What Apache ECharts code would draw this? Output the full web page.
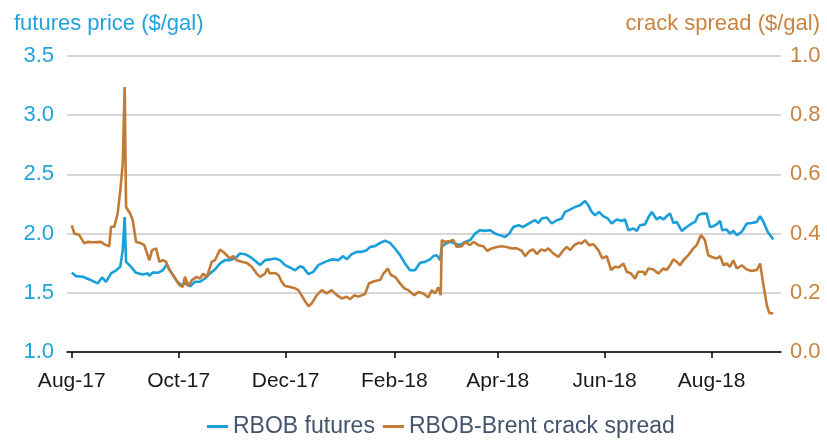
<!DOCTYPE html>
<html>
<head>
<meta charset="utf-8">
<title>RBOB futures and RBOB-Brent crack spread</title>
<script src="https://cdn.jsdelivr.net/npm/echarts@6/dist/echarts.min.js"></script>
<style>
  html, body { margin: 0; padding: 0; background: #fff; }
  #chart { width: 827px; height: 440px; }
</style>
</head>
<body>
<div id="chart"></div>
<script>
// x values are days after 2017-08-01
const rbobDay = [0, 2.5, 6.3, 10, 14.8, 17.3, 19.6, 22.4, 25.3, 27.7, 29.1, 30.2, 31, 33.8, 36.7, 40.5, 43.4, 44.3, 46.2, 49.1,
  51.9, 54.2, 56.6, 59.5, 62.3, 64.6, 67.5, 70.3, 73.2, 76, 78.9, 81.7, 84.6, 87.4, 90.3, 93.2, 96, 98.9, 101.7, 104.6,
  107.4, 110.3, 113.1, 116, 118.8, 121.7, 124.5, 127.4, 130.2, 132.1, 135, 137.8, 140.7, 144.5, 148.3, 152.1, 154.9, 156.9, 159.7, 162.6,
  165.4, 168.3, 170.2, 173, 175.9, 178.7, 181.6, 184.4, 187.3, 190.1, 193, 195.8, 198.7, 201.5, 204.4, 206.3, 208.2, 210.1, 211.1, 212.9,
  215.8, 218.6, 221.5, 224.4, 227.2, 230.1, 232.9, 235.8, 238.6, 241.5, 244.3, 247.2, 249.6, 251.9, 254.8, 257.6, 261.4, 264.3, 266.2, 268.1,
  271, 273.8, 276.7, 279.5, 281.4, 284.3, 287.1, 290, 292.8, 294.7, 296.6, 298.5, 300.8, 303.2, 305.8, 308, 310.9, 313.7, 315.6, 317.5,
  320.4, 322.3, 324.2, 327, 329.3, 330.9, 333.7, 335.6, 337.5, 340, 341.3, 343.2, 345.1, 348, 350.8, 353.7, 355.6, 357.4, 359.4, 362.2,
  364.1, 366, 368, 369.9, 371.1, 373.6, 375.5, 377.4, 379.4, 382.2, 385.1, 387.9, 390.8, 392.7, 394.6, 397, 400.2];
const rbobPrice = [1.669, 1.641, 1.635, 1.613, 1.579, 1.63, 1.593, 1.664, 1.69, 1.72, 1.86, 2.14, 1.761, 1.72, 1.669, 1.655, 1.664, 1.643, 1.672, 1.669,
  1.69, 1.739, 1.677, 1.607, 1.565, 1.579, 1.556, 1.593, 1.593, 1.621, 1.664, 1.697, 1.748, 1.776, 1.776, 1.79, 1.832, 1.826, 1.804, 1.77,
  1.734, 1.776, 1.782, 1.79, 1.776, 1.734, 1.714, 1.69, 1.725, 1.714, 1.658, 1.677, 1.734, 1.761, 1.782, 1.776, 1.81, 1.782, 1.826, 1.846,
  1.846, 1.86, 1.888, 1.894, 1.922, 1.939, 1.922, 1.874, 1.818, 1.748, 1.69, 1.69, 1.753, 1.761, 1.782, 1.81, 1.818, 1.776, 1.888, 1.911,
  1.93, 1.916, 1.902, 1.93, 1.944, 2.0, 2.029, 2.023, 2.029, 2.0, 1.987, 1.972, 2.0, 2.056, 2.071, 2.056, 2.09, 2.113, 2.09, 2.127,
  2.136, 2.085, 2.113, 2.127, 2.183, 2.203, 2.225, 2.239, 2.276, 2.239, 2.183, 2.155, 2.183, 2.147, 2.127, 2.085, 2.119, 2.107, 2.119, 2.029,
  2.043, 2.023, 2.071, 2.078, 2.147, 2.183, 2.119, 2.141, 2.119, 2.155, 2.169, 2.09, 2.099, 2.023, 2.056, 2.085, 2.099, 2.155, 2.169, 2.169,
  2.056, 2.062, 2.079, 2.107, 2.029, 2.034, 2.0, 2.023, 1.987, 2.015, 2.085, 2.09, 2.099, 2.147, 2.099, 2.015, 1.95];

const crackDay = [0, 1.5, 4.3, 7.2, 9.1, 12.2, 16.7, 18.6, 21.4, 22.4, 24.3, 26.2, 27.7, 29.1, 30.2, 31, 33.3, 34.8, 36.7, 39.5,
  41.4, 42.4, 44.3, 45.8, 48.1, 50, 51.9, 53.8, 55.7, 58.5, 61.4, 63.3, 64.6, 66.5, 68.5, 71.3, 73.2, 75.1, 77, 79.9,
  81.7, 84.6, 86.5, 88.4, 90.3, 92.2, 94.1, 97, 99.8, 102.7, 105.5, 107.4, 110.3, 111.6, 113.1, 116, 117.9, 119.8, 121.7, 124.5,
  127.4, 129.3, 132.1, 135, 136.9, 139.8, 142.6, 145.5, 148.3, 151.2, 154, 156.9, 158.8, 161.2, 163.5, 167.3, 169.6, 173, 175.9, 177.8,
  180.3, 182.1, 184.4, 187.3, 189.7, 192, 195.4, 197.7, 200.6, 203.4, 205.4, 207.2, 209.1, 210.5, 211.1, 212.9, 215.8, 217.7, 219.6, 222.5,
  224.4, 227.2, 229.1, 232, 234.8, 237.1, 239.6, 242.5, 245.3, 248.2, 251, 253.9, 256.7, 258.6, 261.1, 263.3, 265.3, 267.7, 270, 271.9,
  274.7, 277.6, 280.4, 282.4, 284.3, 286.7, 289, 290.9, 292.8, 295.1, 297.6, 300.4, 302.7, 305.2, 307.7, 309.9, 312.2, 314.7, 316.6, 319.1,
  321.3, 323.2, 326.1, 327, 328.9, 331.8, 334.6, 337.5, 339.4, 341.3, 343.2, 345.1, 347, 348.9, 351.7, 354.6, 356.5, 359, 361.2, 363.1,
  366, 368, 369.9, 371.8, 373.7, 375.5, 377.4, 379.4, 382.2, 385.1, 387.9, 390.8, 392.7, 394.6, 396.5, 397.9, 400.2];
const crackSpread = [0.428, 0.40, 0.395, 0.367, 0.372, 0.371, 0.372, 0.364, 0.357, 0.423, 0.423, 0.468, 0.546, 0.636, 0.895, 0.49, 0.468, 0.445, 0.372, 0.367,
  0.361, 0.367, 0.31, 0.344, 0.35, 0.305, 0.31, 0.305, 0.277, 0.254, 0.226, 0.22, 0.254, 0.223, 0.243, 0.254, 0.248, 0.265, 0.252, 0.305,
  0.31, 0.346, 0.338, 0.327, 0.316, 0.324, 0.31, 0.305, 0.301, 0.288, 0.265, 0.254, 0.265, 0.282, 0.265, 0.267, 0.26, 0.237, 0.223, 0.22,
  0.215, 0.209, 0.181, 0.155, 0.164, 0.192, 0.209, 0.198, 0.209, 0.192, 0.181, 0.187, 0.178, 0.192, 0.187, 0.196, 0.232, 0.24, 0.243, 0.265,
  0.282, 0.26, 0.254, 0.232, 0.215, 0.209, 0.192, 0.203, 0.198, 0.184, 0.209, 0.198, 0.218, 0.192, 0.378, 0.372, 0.375, 0.378, 0.355, 0.357,
  0.372, 0.361, 0.372, 0.361, 0.357, 0.342, 0.35, 0.355, 0.357, 0.355, 0.35, 0.35, 0.342, 0.324, 0.341, 0.346, 0.331, 0.346, 0.342, 0.35,
  0.333, 0.321, 0.344, 0.355, 0.344, 0.361, 0.369, 0.367, 0.378, 0.361, 0.364, 0.344, 0.316, 0.324, 0.277, 0.288, 0.286, 0.299, 0.271, 0.265,
  0.248, 0.271, 0.271, 0.26, 0.282, 0.279, 0.265, 0.282, 0.277, 0.293, 0.313, 0.305, 0.293, 0.31, 0.327, 0.35, 0.361, 0.395, 0.378, 0.327,
  0.319, 0.316, 0.324, 0.293, 0.299, 0.288, 0.31, 0.282, 0.293, 0.279, 0.274, 0.277, 0.299, 0.226, 0.159, 0.131, 0.131];

const tickDates = ['2017-08-01', '2017-10-01', '2017-12-01', '2018-02-01', '2018-04-01', '2018-06-01', '2018-08-01'];
const tickLabels = ['Aug-17', 'Oct-17', 'Dec-17', 'Feb-18', 'Apr-18', 'Jun-18', 'Aug-18'];

const DAY = 86400000;
const start = Date.parse('2017-08-01T00:00:00Z');
const tickDays = tickDates.map(s => Math.round((Date.parse(s + 'T00:00:00Z') - start) / DAY));

const BLUE = '#1a9fdb';
const ORANGE = '#c27a35';
const FONT = '"Liberation Sans", Arial, sans-serif';

const chart = echarts.init(document.getElementById('chart'));

chart.setOption({
  animation: false,
  backgroundColor: '#fff',
  title: [
    {
      text: 'futures price ($/gal)',
      left: 9,
      top: 8,
      textStyle: { color: '#22a3dc', fontSize: 22, fontWeight: 'normal', fontFamily: FONT }
    },
    {
      text: 'crack spread ($/gal)',
      right: 2,
      top: 8,
      textStyle: { color: '#c9853f', fontSize: 22, fontWeight: 'normal', fontFamily: FONT }
    }
  ],
  legend: {
    data: ['RBOB futures', 'RBOB-Brent crack spread'],
    top: 410,
    left: 202,
    icon: 'rect',
    itemWidth: 21,
    itemHeight: 3,
    itemGap: 8,
    textStyle: { color: '#44546a', fontSize: 23, fontFamily: FONT }
  },
  grid: { left: 67, right: 46, top: 56, bottom: 88 },
  xAxis: {
    type: 'value',
    min: -2.7,
    max: 404.6,
    axisLine: { lineStyle: { color: '#000', width: 1.5 } },
    axisTick: { show: true, length: 6, customValues: tickDays, lineStyle: { color: '#000', width: 1.5 } },
    axisLabel: {
      customValues: tickDays,
      formatter: v => {
        const i = tickDays.indexOf(Math.round(v));
        return i >= 0 ? tickLabels[i] : '';
      },
      color: '#1a1a1a',
      fontSize: 21,
      fontFamily: FONT,
      margin: 19
    },
    splitLine: { show: false }
  },
  yAxis: [
    {
      type: 'value',
      min: 1,
      max: 3.5,
      interval: 0.5,
      axisLine: { show: false },
      axisTick: { show: false },
      axisLabel: { formatter: v => v.toFixed(1), color: '#22a3dc', fontSize: 22, fontFamily: FONT, margin: 13 },
      splitLine: { lineStyle: { color: '#c8c8c8', width: 1.5 } }
    },
    {
      type: 'value',
      min: 0,
      max: 1,
      interval: 0.2,
      axisLine: { show: false },
      axisTick: { show: false },
      axisLabel: { formatter: v => v.toFixed(1), color: '#c9853f', fontSize: 22, fontFamily: FONT, margin: 9 },
      splitLine: { show: false }
    }
  ],
  series: [
    {
      name: 'RBOB futures',
      type: 'line',
      yAxisIndex: 0,
      showSymbol: false,
      data: rbobDay.map((d, i) => [d, rbobPrice[i]]),
      lineStyle: { color: BLUE, width: 2.6 },
      itemStyle: { color: BLUE }
    },
    {
      name: 'RBOB-Brent crack spread',
      type: 'line',
      yAxisIndex: 1,
      showSymbol: false,
      data: crackDay.map((d, i) => [d, crackSpread[i]]),
      lineStyle: { color: ORANGE, width: 2.6 },
      itemStyle: { color: ORANGE }
    }
  ]
});
</script>
</body>
</html>
